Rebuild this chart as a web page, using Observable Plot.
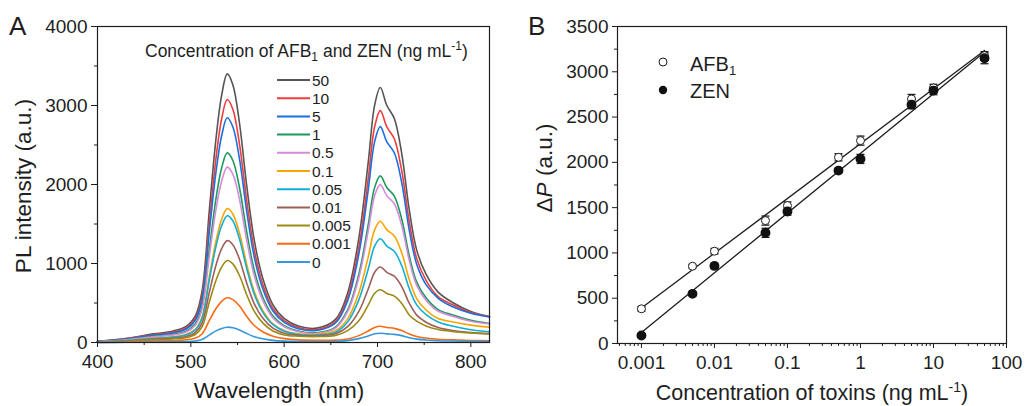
<!DOCTYPE html>
<html>
<head>
<meta charset="utf-8">
<script src="https://cdn.jsdelivr.net/npm/d3@7"></script>
<script src="https://cdn.jsdelivr.net/npm/@observablehq/plot@0.6"></script>
<style>
  html, body { margin: 0; padding: 0; background: #ffffff; }
  body { width: 1030px; height: 406px; position: relative; overflow: hidden; }
  .panel { position: absolute; top: 0; }
</style>
</head>
<body>
<div id="panelA" class="panel" style="left:0px"></div>
<div id="panelB" class="panel" style="left:510px"></div>
<script>
// ---------------- Panel A data: PL spectra ----------------
const concLabels = ["50", "10", "5", "1", "0.5", "0.1", "0.05", "0.01", "0.005", "0.001", "0"];
const lineColors = ["#555555", "#f23c3c", "#1a6fdf", "#1b9a5c", "#d68bdc", "#f7a500", "#10afd6", "#9e5e5a", "#9b8b14", "#fb6a14", "#3398dd"];
const wavelength = [400,430,460,480,495,505,512,520,527,533,539,545,552,560,568,577,588,600,615,635,655,668,680,690,697,703,710,718,726,734,742,752,765,780,800,820];
const I_50    = [14,51,109,143,204,340,646,1700,2584,3128,3400,3264,2788,1972,1292,816,476,305,208,182,292,627,1321,2274,3007,3227,3000,2836,2388,1681,1169,865,638,510,394,330];
const I_10    = [12,46,98,129,185,308,584,1538,2337,2829,3075,2952,2522,1784,1169,738,431,276,189,165,265,570,1201,2068,2734,2935,2728,2579,2172,1529,1063,787,580,480,380,325];
const I_5     = [11,43,91,119,171,285,541,1423,2162,2617,2845,2731,2333,1650,1081,683,398,255,175,153,247,530,1118,1925,2546,2733,2540,2402,2022,1423,990,732,560,455,370,322];
const I_1     = [10,36,77,101,144,240,456,1200,1824,2208,2400,2304,1968,1392,912,576,336,214,145,124,194,412,865,1487,1965,2109,1961,1854,1561,1099,764,566,417,350,280,240];
const I_0_5   = [9,33,71,93,133,222,422,1110,1687,2042,2220,2131,1820,1288,844,533,311,199,135,116,183,390,819,1408,1861,1998,1857,1756,1479,1041,724,536,395,335,270,235];
const I_0_1   = [7,25,54,71,102,170,322,848,1288,1559,1695,1627,1390,983,644,407,237,152,110,105,150,299,628,1081,1429,1534,1425,1348,1135,799,556,411,303,262,220,195];
const I_0_05  = [6,24,51,67,96,161,305,803,1220,1477,1605,1541,1316,931,610,385,225,143,102,95,130,258,539,926,1223,1313,1220,1154,972,684,476,353,260,208,161,135];
const I_0_01  = [5,19,41,54,77,129,245,645,980,1187,1290,1238,1058,748,490,310,181,118,90,85,110,200,394,674,890,955,888,839,707,498,347,257,189,152,125,110];
const I_0_005 = [4,16,33,44,62,104,197,519,789,955,1038,996,851,602,394,249,145,96,80,75,90,150,276,472,623,668,621,587,495,348,270,210,165,140,120,108];
const I_0_001 = [2,8,18,24,34,57,108,283,430,521,566,543,464,328,215,136,79,49,33,28,30,45,87,146,191,205,190,179,151,107,75,56,41,33,26,22];
const I_0     = [1,3,6,8,12,19,37,97,147,178,194,186,159,113,74,47,27,17,12,10,12,24,49,83,110,118,109,103,87,61,43,32,23,19,15,12];
const spectra = [I_50, I_10, I_5, I_1, I_0_5, I_0_1, I_0_05, I_0_01, I_0_005, I_0_001, I_0];

// ---------------- Panel B data: calibration ----------------
const toxinConc = [0.001, 0.005, 0.01, 0.05, 0.1, 0.5, 1, 5, 10, 50];
const dP_AFB1 = [383, 853, 1019, 1357, 1523, 2056, 2240, 2700, 2822, 3178];
const err_AFB1 = [25, 20, 30, 50, 40, 40, 50, 50, 40, 45];
const dP_ZEN = [88, 548, 857, 1222, 1457, 1909, 2038, 2637, 2792, 3149];
const err_ZEN = [20, 20, 30, 50, 40, 25, 50, 45, 45, 60];

// tick values
const xTicksA = [400, 500, 600, 700, 800];
const xMinorA = [450, 550, 650, 750];
const yTicksA = [0, 1000, 2000, 3000, 4000];
const yMinorA = [500, 1500, 2500, 3500];
const xTicksB = [0.001, 0.01, 0.1, 1, 10, 100];
const yTicksB = [0, 500, 1000, 1500, 2000, 2500, 3000, 3500];
const yMinorB = [250, 750, 1250, 1750, 2250, 2750, 3250];

const FONT = "'Liberation Sans', Arial, Helvetica, sans-serif";
const INK = "#1e1e1e";

// ---------- Panel A ----------
const rowsA = concLabels.flatMap((c, i) => wavelength.map((w, j) => ({wl: w, v: spectra[i][j], conc: c})));

const plotA = Plot.plot({
  width: 510, height: 406,
  marginLeft: 97, marginRight: 21, marginTop: 26, marginBottom: 64,
  style: {fontFamily: FONT, fontSize: "19px", color: INK, background: "transparent", overflow: "visible"},
  x: {domain: [400, 820]},
  y: {domain: [0, 4000]},
  color: {type: "ordinal", domain: concLabels, range: lineColors},
  marks: [
    Plot.line(rowsA, {x: "wl", y: "v", z: "conc", stroke: "conc", strokeWidth: 1.6, curve: "catmull-rom"}),
    Plot.frame({stroke: INK, strokeWidth: 1.2}),
    Plot.axisX({ticks: xTicksA, tickSize: 5, tickPadding: 7, tickFormat: "d", label: null}),
    Plot.axisX({ticks: xMinorA, tickSize: 3, tickFormat: () => "", label: null}),
    Plot.axisY({ticks: yTicksA, tickSize: 6, tickPadding: 4, tickFormat: "d", label: null}),
    Plot.axisY({ticks: yMinorA, tickSize: 3, tickFormat: () => "", label: null})
  ]
});
document.getElementById("panelA").appendChild(plotA);

// ---------- Panel B ----------
function logFit(xs, ys) {
  const lx = xs.map(Math.log10);
  const mx = d3.mean(lx), my = d3.mean(ys);
  const sxy = d3.sum(lx, (v, i) => (v - mx) * (ys[i] - my));
  const sxx = d3.sum(lx, v => (v - mx) * (v - mx));
  const b = sxy / sxx, a = my - b * mx;
  const ends = [xs[0], xs[xs.length - 1]];
  return ends.map(x => ({x, y: a + b * Math.log10(x)}));
}
const fitAFB = logFit(toxinConc, dP_AFB1);
const fitZEN = logFit(toxinConc, dP_ZEN);
const ptsAFB = toxinConc.map((c, i) => ({c, v: dP_AFB1[i], e: err_AFB1[i]}));
const ptsZEN = toxinConc.map((c, i) => ({c, v: dP_ZEN[i], e: err_ZEN[i]}));
const allPts = ptsAFB.concat(ptsZEN);

const xMinorB = [];
for (let k = -4; k <= 1; k++) for (let m = 2; m <= 9; m++) {
  const t = +(m * Math.pow(10, k)).toPrecision(3);
  if (t >= 0.00047 && t <= 100) xMinorB.push(t);
}
const capSymbol = {draw(ctx) { ctx.moveTo(-4, 0); ctx.lineTo(4, 0); }};

const plotB = Plot.plot({
  width: 520, height: 406,
  marginLeft: 107, marginRight: 24, marginTop: 26, marginBottom: 63,
  style: {fontFamily: FONT, fontSize: "19px", color: INK, background: "transparent", overflow: "visible"},
  x: {type: "log", domain: [0.00047, 100]},
  y: {domain: [0, 3500]},
  marks: [
    Plot.line(fitAFB, {x: "x", y: "y", stroke: INK, strokeWidth: 1.3}),
    Plot.line(fitZEN, {x: "x", y: "y", stroke: INK, strokeWidth: 1.3}),
    Plot.ruleX(allPts, {x: "c", y1: d => d.v - d.e, y2: d => d.v + d.e, stroke: INK, strokeWidth: 1.3}),
    Plot.dot(allPts, {x: "c", y: d => d.v - d.e, symbol: capSymbol, stroke: INK, strokeWidth: 1.3}),
    Plot.dot(allPts, {x: "c", y: d => d.v + d.e, symbol: capSymbol, stroke: INK, strokeWidth: 1.3}),
    Plot.dot(ptsAFB, {x: "c", y: "v", r: 4, fill: "white", stroke: INK, strokeWidth: 1}),
    Plot.dot(ptsZEN, {x: "c", y: "v", r: 4.2, fill: "#111", stroke: "#111"}),
    Plot.frame({stroke: INK, strokeWidth: 1.2}),
    Plot.axisX({ticks: xTicksB, tickSize: 5, tickPadding: 7, tickFormat: d => String(d), label: null}),
    Plot.axisX({ticks: xMinorB, tickSize: 3, tickFormat: () => "", label: null}),
    Plot.axisY({ticks: yTicksB, tickSize: 5, tickPadding: 4, tickFormat: "d", label: null}),
    Plot.axisY({ticks: yMinorB, tickSize: 3, tickFormat: () => "", label: null})
  ]
});
document.getElementById("panelB").appendChild(plotB);

// ---------- Overlay: titles, legends, panel letters ----------
const ov = d3.select("body").append("svg")
  .attr("width", 1030).attr("height", 406)
  .style("position", "absolute").style("left", "0px").style("top", "0px")
  .style("pointer-events", "none")
  .attr("font-family", FONT).attr("fill", INK);

function addText(x, y, parts, size, opts = {}) {
  const t = ov.append("text").attr("x", x).attr("y", y).attr("font-size", size);
  if (opts.anchor) t.attr("text-anchor", opts.anchor);
  if (opts.transform) t.attr("transform", opts.transform).attr("x", 0).attr("y", 0);
  for (const p of parts) {
    if (typeof p === "string") { t.append("tspan").text(p); continue; }
    const s = t.append("tspan").text(p.t);
    if (p.size) s.attr("font-size", p.size);
    if (p.dy) s.attr("dy", p.dy);
    if (p.italic) s.attr("font-style", "italic");
  }
  return t;
}

// panel letters
addText(9, 35, ["A"], 26);
addText(528, 35, ["B"], 26);

// axis titles
addText(279, 398, ["Wavelength (nm)"], 22.5, {anchor: "middle"});
addText(0, 0, ["PL intensity (a.u.)"], 22.5, {anchor: "middle", transform: "translate(31,186) rotate(-90)"});
addText(812, 400, ["Concentration of toxins (ng mL", {t: "-1", size: 14, dy: -8}, {t: ")", dy: 8}], 21.5, {anchor: "middle"});
addText(0, 0, ["\u0394", {t: "P", italic: true}, " (a.u.)"], 22.5, {anchor: "middle", transform: "translate(552,168) rotate(-90)"});

// panel A legend
addText(145, 57, ["Concentration of AFB", {t: "1", size: 12, dy: 4}, {t: " and ZEN (ng mL", dy: -4}, {t: "-1", size: 12, dy: -7}, {t: ")", dy: 7}], 17.5);
concLabels.forEach((c, i) => {
  const y = 80 + i * 18.2;
  ov.append("line").attr("x1", 277).attr("x2", 310).attr("y1", y).attr("y2", y)
    .attr("stroke", lineColors[i]).attr("stroke-width", 2);
  addText(312, y + 5.6, [c], 15.5);
});

// panel B legend
ov.append("circle").attr("cx", 663).attr("cy", 62).attr("r", 4).attr("fill", "white").attr("stroke", INK).attr("stroke-width", 1);
ov.append("circle").attr("cx", 663).attr("cy", 90).attr("r", 4.2).attr("fill", "#111");
addText(690, 71, ["AFB", {t: "1", size: 13, dy: 4}], 20);
addText(690, 97.5, ["ZEN"], 20);
</script>
</body>
</html>
